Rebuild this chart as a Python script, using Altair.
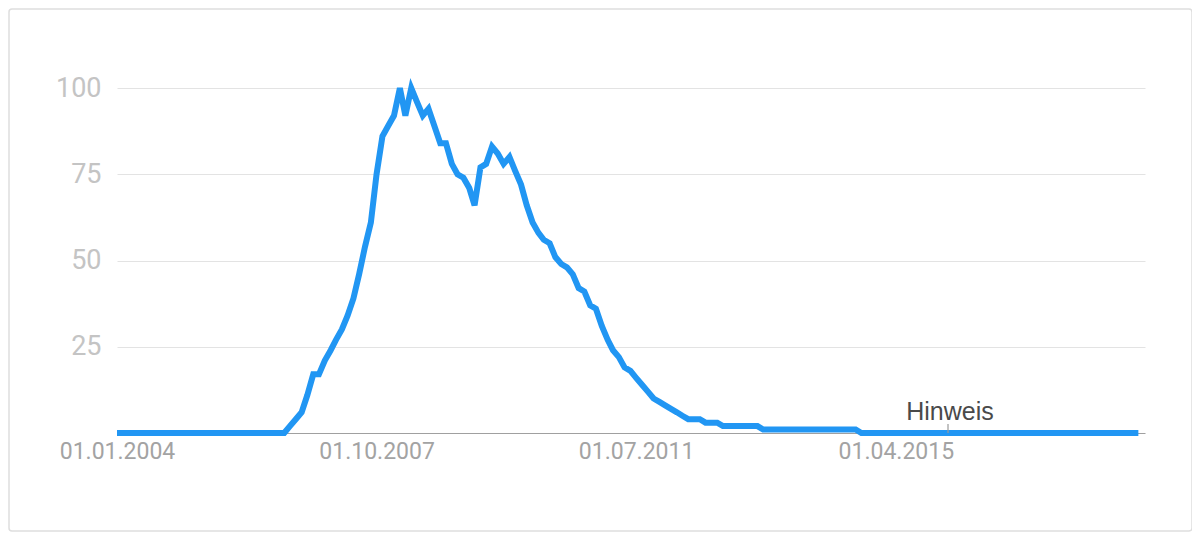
import altair as alt
import pandas as pd

# Monthly search interest, 2004-01 .. 2018-10
start_month = "2004-01-01"
n_months = 178
values = (
    [0] * 30
    + [2, 4, 6, 11, 17,
       17, 21, 24, 27, 30,
       34, 39, 46, 54, 61,
       75, 86, 89, 92, 100,
       92, 100, 96, 92, 94,
       89, 84, 84, 78, 75,
       74, 71, 66, 77, 78,
       83, 81, 78, 80, 76,
       72, 66, 61, 58, 56,
       55, 51, 49, 48, 46,
       42, 41, 37, 36, 31,
       27, 24, 22, 19, 18,
       16, 14, 12, 10, 9,
       8, 7, 6, 5, 4,
       4, 4, 3, 3, 3,
       2]
    + [2] * 6
    + [1] * 17
    + [0] * 49
)
y_ticks = [25, 50, 75, 100]
x_tick_dates = [(2004, 1, 1), (2007, 10, 1), (2011, 7, 1), (2015, 4, 1)]
note_date = "2016-01-01"
note_text = "Hinweis"

dates = pd.date_range(start_month, periods=n_months, freq="MS")
df = pd.DataFrame({"date": dates, "value": values})

W, H = 1028, 345
x_scale = alt.Scale(domain=[alt.DateTime(year=2004, month=1, date=1),
                            alt.DateTime(year=2018, month=11, date=5)])
y_scale = alt.Scale(domain=[0, 100], nice=False)

base_x = alt.X(
    "date:T", scale=x_scale, title=None,
    axis=alt.Axis(
        values=[alt.DateTime(year=y, month=m, date=d) for (y, m, d) in x_tick_dates],
        format="%d.%m.%Y", grid=False, ticks=False, domain=True,
        domainColor="#a0a0a0", domainWidth=1.2,
        labelColor="#a3a3a3", labelFontSize=23, labelFont="Roboto",
        labelPadding=7, labelAlign="center",
    ),
)
base_y = alt.Y(
    "value:Q", scale=y_scale, title=None,
    axis=alt.Axis(
        values=y_ticks, grid=True, gridColor="#e3e3e3", gridWidth=1.2,
        ticks=False, domain=False, labelColor="#c4c4c4", labelFontSize=27,
        labelFont="Roboto", labelPadding=16,
    ),
)

line = alt.Chart(df).mark_line(color="#2196F3", strokeWidth=6, strokeJoin="miter").encode(
    x=base_x, y=base_y
)

note_df = pd.DataFrame({"date": [pd.Timestamp(note_date)], "y0": [0], "y1": [2.6],
                        "ty": [3.8], "label": [note_text]})
note_rule = alt.Chart(note_df).mark_rule(color="#9a9a9a", strokeWidth=1.2).encode(
    x=alt.X("date:T", scale=x_scale), y=alt.Y("y0:Q", scale=y_scale), y2="y1:Q"
)
note_label = alt.Chart(note_df).mark_text(
    font="Liberation Sans", fontSize=25, color="#4a4a4a", baseline="alphabetic", align="center",
    dx=2
).encode(
    x=alt.X("date:T", scale=x_scale), y=alt.Y("ty:Q", scale=y_scale), text="label:N"
)

frame = alt.Chart(pd.DataFrame({"a": [0]})).mark_rect(
    fill="#ffffff", fillOpacity=0, stroke="#dedede", strokeWidth=1.5, cornerRadius=3
).encode(
    x=alt.value(-108), x2=alt.value(1075), y=alt.value(-79), y2=alt.value(443)
)

chart = alt.layer(frame, line, note_rule, note_label).properties(
    width=W, height=H,
    autosize=alt.AutoSizeParams(type="none"),
    padding={"left": 109, "top": 80, "right": 47, "bottom": 99},
    background="#ffffff",
).configure_view(stroke=None)

chart.save("out.html", embed_options={"renderer": "svg", "actions": False})
